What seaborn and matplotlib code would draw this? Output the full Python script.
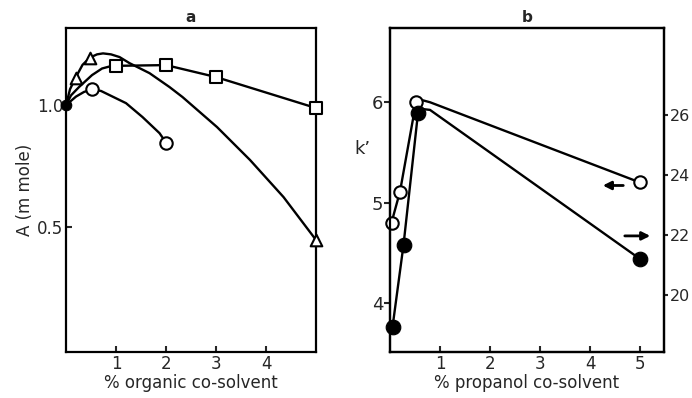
"""Adsorption (a) and capacity factor (b) versus co-solvent content."""

import matplotlib

matplotlib.use("Agg")
import matplotlib.pyplot as plt
import seaborn as sns

# ---- panel a: markers ----
tri_x = [0.19, 0.48, 5.0]
tri_y = [1.112, 1.195, 0.447]
sq_x = [1.0, 2.0, 3.0, 5.0]
sq_y = [1.161, 1.164, 1.115, 0.988]
circ_x = [0.52, 2.0]
circ_y = [1.064, 0.846]
origin_x = [0.0]
origin_y = [1.0]

# ---- panel a: hand-drawn curves ----
tri_curve_x = [0.0, 0.08, 0.19, 0.33, 0.48, 0.62, 0.74, 0.9, 1.07, 1.27, 1.67,
               2.07, 2.33, 3.02, 3.68, 4.35, 5.0]
tri_curve_y = [1.0, 1.065, 1.112, 1.165, 1.195, 1.208, 1.212, 1.208, 1.197,
               1.172, 1.131, 1.074, 1.033, 0.91, 0.775, 0.623, 0.447]
sq_curve_x = [0.0, 0.1, 0.26, 0.52, 0.72, 0.9, 1.0, 2.0, 3.0, 5.0]
sq_curve_y = [1.0, 1.04, 1.074, 1.123, 1.150, 1.160, 1.161, 1.164, 1.115, 0.988]
circ_curve_x = [0.0, 0.2, 0.36, 0.52, 0.7, 0.87, 1.2, 1.53, 1.87, 2.0]
circ_curve_y = [1.0, 1.035, 1.054, 1.064, 1.058, 1.041, 1.008, 0.951, 0.885, 0.846]

# ---- panel b ----
open_x = [0.03, 0.2, 0.52, 5.0]
open_k = [4.80, 5.11, 6.0, 5.20]
open_line_x = [0.03, 0.2, 0.52, 0.65, 0.8, 5.0]
open_line_k = [4.80, 5.11, 6.0, 6.02, 6.0, 5.20]
filled_x = [0.05, 0.27, 0.56, 5.0]
filled_k = [18.93, 21.67, 26.07, 21.2]
filled_line_x = [0.05, 0.27, 0.56, 0.65, 0.8, 5.0]
filled_line_k = [18.93, 21.67, 26.07, 26.2, 26.17, 21.2]

sns.set_style("ticks")
plt.rcParams["font.family"] = ["DejaVu Sans"]

fig = plt.figure(figsize=(6.92, 3.98), dpi=100)
ax_a = fig.add_axes([0.0954, 0.1156, 0.3613, 0.814])
ax_b = fig.add_axes([0.5636, 0.1156, 0.3960, 0.814])
ax_r = ax_b.twinx()

LW = 1.7
mk = dict(color="white", edgecolor="black", linewidth=1.5, zorder=5,
          clip_on=False, legend=False)

# panel a
for cx, cy in [(tri_curve_x, tri_curve_y), (sq_curve_x, sq_curve_y),
               (circ_curve_x, circ_curve_y)]:
    sns.lineplot(x=cx, y=cy, sort=False, estimator=None, color="black",
                 linewidth=LW, ax=ax_a)
sns.scatterplot(x=tri_x, y=tri_y, marker="^", s=70, ax=ax_a, **mk)
sns.scatterplot(x=sq_x, y=sq_y, marker="s", s=80, ax=ax_a, **mk)
sns.scatterplot(x=circ_x, y=circ_y, marker="o", s=80, ax=ax_a, **mk)
sns.scatterplot(x=origin_x, y=origin_y, marker="o", s=60, color="black",
                edgecolor="black", zorder=6, clip_on=False, legend=False,
                ax=ax_a)

ax_a.set_xlim(0, 5.0)
ax_a.set_ylim(-0.012, 1.316)
ax_a.set_xticks([1, 2, 3, 4])
ax_a.set_yticks([0.5, 1.0])
ax_a.set_yticklabels(["0.5", "1.0"])
ax_a.tick_params(direction="in", length=4, width=1.5, labelsize=12, pad=2)
ax_a.set_xlabel("% organic co-solvent", fontsize=12, labelpad=1)
ax_a.set_ylabel("A (m mole)", fontsize=12, labelpad=2)
ax_a.set_title("a", fontsize=11, fontweight="bold", pad=4)

# panel b
sns.lineplot(x=open_line_x, y=open_line_k, sort=False, estimator=None,
             color="black", linewidth=LW, ax=ax_b)
sns.scatterplot(x=open_x, y=open_k, marker="o", s=80, ax=ax_b, **mk)
sns.lineplot(x=filled_line_x, y=filled_line_k, sort=False, estimator=None,
             color="black", linewidth=LW, ax=ax_r)
sns.scatterplot(x=filled_x, y=filled_k, marker="o", s=110, color="black",
                edgecolor="black", zorder=5, clip_on=False, legend=False,
                ax=ax_r)

ax_b.set_xlim(0, 5.48)
ax_b.set_ylim(3.51, 6.74)
ax_r.set_ylim(18.1, 28.9)
ax_b.set_xticks([1, 2, 3, 4, 5])
ax_b.set_yticks([4, 5, 6])
ax_r.set_yticks([20, 22, 24, 26])
ax_b.tick_params(axis="x", direction="in", length=4, width=1.5,
                 labelsize=12, pad=2)
ax_b.tick_params(axis="y", direction="out", length=4, width=1.5,
                 labelsize=13, pad=1)
ax_r.tick_params(axis="y", direction="out", length=3, width=1.5,
                 labelsize=11.5, pad=1)
ax_b.set_xlabel("% propanol co-solvent", fontsize=12, labelpad=1)
ax_b.set_ylabel("k\u2019", fontsize=13, rotation=0, labelpad=8)
ax_b.yaxis.set_label_coords(-0.1, 0.6)
ax_b.set_title("b", fontsize=11, fontweight="bold", pad=4)
ax_r.set_ylabel("")

ax_b.annotate("", xy=(4.2, 5.17), xytext=(4.72, 5.17),
              arrowprops=dict(arrowstyle="-|>", lw=2, color="black",
                              mutation_scale=12))
ax_r.annotate("", xy=(5.26, 21.97), xytext=(4.64, 21.97),
              arrowprops=dict(arrowstyle="-|>", lw=2, color="black",
                              mutation_scale=12))

for ax in (ax_a, ax_b, ax_r):
    for sp in ax.spines.values():
        sp.set_visible(True)
        sp.set_linewidth(1.6)
        sp.set_color("black")

fig.savefig("out.png", dpi=100)
